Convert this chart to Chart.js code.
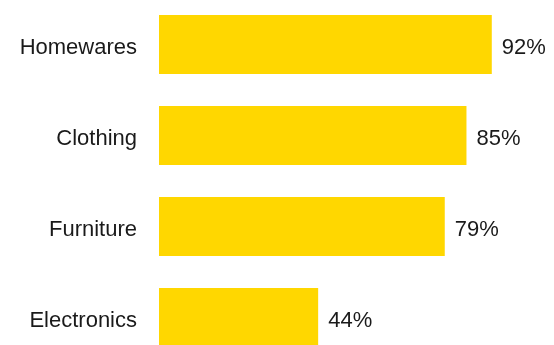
<!DOCTYPE html>
<html>
<head>
<meta charset="utf-8">
<script src="https://cdn.jsdelivr.net/npm/chart.js@4"></script>
<style>
  html, body { margin: 0; padding: 0; background: #fff; overflow: hidden; }
  #chart { display: block; margin-top: -1px; }
</style>
</head>
<body>
<canvas id="chart" width="554" height="364"></canvas>
<script>
// share of respondents per product category
const categories = ["Homewares", "Clothing", "Furniture", "Electronics"];
const values = [92, 85, 79, 44];

const ctx = document.querySelector("#chart").getContext("2d");
const fontFamily = "'Liberation Sans', Arial, sans-serif";

// writes "xx%" just right of each bar
const valueLabels = {
  id: "valueLabels",
  afterDatasetsDraw(chart) {
    const c = chart.ctx;
    const meta = chart.getDatasetMeta(0);
    c.save();
    c.font = `22px ${fontFamily}`;
    c.fillStyle = "#1a1a1a";
    c.textAlign = "left";
    c.textBaseline = "middle";
    meta.data.forEach((bar, i) => {
      c.fillText(values[i] + "%", bar.x + 10, bar.y + 3);
    });
    c.restore();
  },
};

new Chart(ctx, {
  type: "bar",
  data: {
    labels: categories,
    datasets: [
      {
        data: values,
        backgroundColor: "#FFD700",
        borderWidth: 0,
        categoryPercentage: 1,
        barPercentage: 0.65,
      },
    ],
  },
  options: {
    indexAxis: "y",
    responsive: false,
    animation: false,
    layout: { padding: 0, autoPadding: false },
    plugins: {
      legend: { display: false },
      tooltip: { enabled: false },
    },
    scales: {
      x: {
        min: 0,
        max: 109.2,
        display: false,
      },
      y: {
        grid: { display: false, drawTicks: false },
        border: { display: false },
        ticks: {
          padding: 22,
          labelOffset: 3,
          color: "#1a1a1a",
          font: { family: fontFamily, size: 22 },
        },
        afterFit(scale) {
          scale.width = 159;
          scale.paddingTop = 0;
          scale.paddingBottom = 0;
        },
      },
    },
  },
  plugins: [valueLabels],
});
</script>
</body>
</html>
